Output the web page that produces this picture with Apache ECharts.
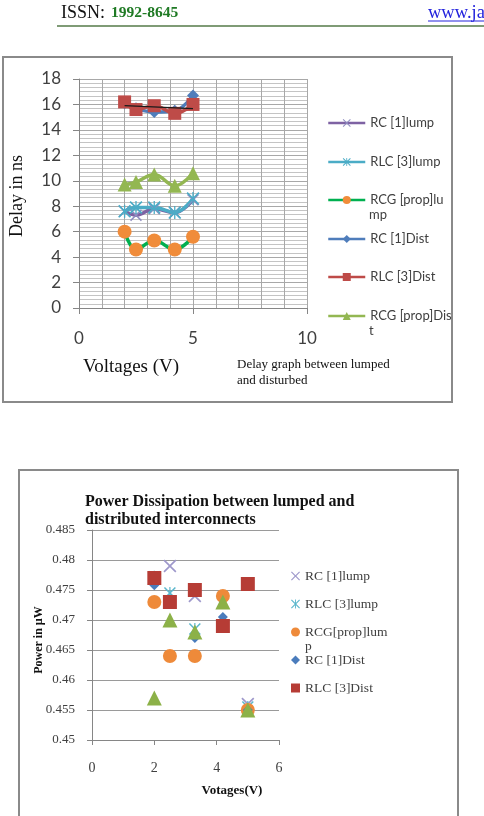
<!DOCTYPE html>
<html>
<head>
<meta charset="utf-8">
<script src="https://cdn.jsdelivr.net/npm/echarts@6/dist/echarts.min.js"></script>
<style>
  html, body { margin: 0; padding: 0; background: #fff; }
  #delayChart { position: absolute; left: 0; top: 0; width: 484px; height: 430px; }
  #powerChart { position: absolute; left: 0; top: 430px; width: 484px; height: 386px; }
</style>
</head>
<body>
<div id="delayChart"></div>
<div id="powerChart"></div>
<script>
// supply voltages (V), shared by both charts
const voltages = [2, 2.5, 3.3, 4.2, 5];

// delay in ns
const delayRC1Lump = [7.6, 7.3, 7.8, 7.5, 8.5];
const delayRLC3Lump = [7.6, 7.9, 7.9, 7.5, 8.6];
const delayRCGLump = [6.0, 4.6, 5.3, 4.6, 5.6];
const delayRC1Dist = [16.1, 15.7, 15.4, 15.5, 16.7];
const delayRLC3Dist = [16.2, 15.6, 15.9, 15.3, 16.0];
const delayRCGDist = [9.7, 9.9, 10.5, 9.6, 10.6];

// power in uW
const powerRC1Lump = [0.477, 0.479, 0.474, 0.469, 0.456];
const powerRLC3Lump = [0.4772, 0.4745, 0.4685, 0.469, 0.4555];
const powerRCGLump = [0.473, 0.464, 0.464, 0.474, 0.455];
const powerRC1Dist = [0.4758, 0.473, 0.467, 0.4705, 0.455];
const powerRLC3Dist = [0.477, 0.473, 0.475, 0.469, 0.476];
const powerRCGDist = [0.457, 0.470, 0.468, 0.473, 0.455];

const X_MARK = 'path://M0,0.9L0.9,0L5,4.1L9.1,0L10,0.9L5.9,5L10,9.1L9.1,10L5,5.9L0.9,10L0,9.1L4.1,5Z';
const STAR_MARK = 'path://M0,0.9L0.9,0L5,4.1L9.1,0L10,0.9L5.9,5L10,9.1L9.1,10L5,5.9L0.9,10L0,9.1L4.1,5ZM4.5,0L5.5,0L5.5,10L4.5,10Z';

function pairs(ys) {
  return voltages.map(function (v, i) { return [v, ys[i]]; });
}

// ---------- chart 1 : delay ----------
let delayChart = echarts.init(document.getElementById('delayChart'));

const delayDefs = [
  { name: 'RC [1]lump', label: 'RC [1]lump', data: delayRC1Lump, line: '#7e62a3', mark: '#8f8cc0', symbol: X_MARK, size: 12, cy: 123 },
  { name: 'RLC [3]lump', label: 'RLC [3]lump', data: delayRLC3Lump, line: '#4bacc6', mark: '#4bacc6', symbol: STAR_MARK, size: 13, cy: 162 },
  { name: 'RCG [prop]lump', label: 'RCG [prop]lu', wrap: 'mp', data: delayRCGLump, line: '#00b050', mark: '#f08c3a', symbol: 'circle', size: 14, cy: 200 },
  { name: 'RC [1]Dist', label: 'RC [1]Dist', data: delayRC1Dist, line: '#4f7dbb', mark: '#4f7dbb', symbol: 'diamond', size: 12, cy: 239 },
  { name: 'RLC [3]Dist', label: 'RLC [3]Dist', data: delayRLC3Dist, line: '#be4b48', mark: '#be4b48', symbol: 'rect', size: 13, cy: 277 },
  { name: 'RCG [prop]Dist', label: 'RCG [prop]Dis', wrap: 't', data: delayRCGDist, line: '#93b752', mark: '#93b752', symbol: 'triangle', size: 14, cy: 316 }
];

// linear trendline on RLC [3]Dist
let n = voltages.length, sx = 0, sy = 0, sxx = 0, sxy = 0;
voltages.forEach(function (v, i) {
  sx += v; sy += delayRLC3Dist[i]; sxx += v * v; sxy += v * delayRLC3Dist[i];
});
const slope = (n * sxy - sx * sy) / (n * sxx - sx * sx);
const intercept = (sy - slope * sx) / n;
const xFirst = voltages[0], xLast = voltages[n - 1];

const delaySeries = delayDefs.map(function (d) {
  return {
    name: d.name,
    type: 'line',
    smooth: 0.4,
    data: pairs(d.data),
    symbol: d.symbol,
    symbolSize: d.size,
    showAllSymbol: true,
    lineStyle: { color: d.line, width: 3.5 },
    itemStyle: { color: d.mark },
    emphasis: { disabled: true }
  };
});
delaySeries.push({
  name: 'trend',
  type: 'line',
  data: [[xFirst, intercept + slope * xFirst], [xLast, intercept + slope * xLast]],
  symbol: 'none',
  lineStyle: { color: '#1a1a1a', width: 1.2 },
  z: 5,
  emphasis: { disabled: true }
});

const delayLegends = delayDefs.map(function (d) {
  return {
    data: [d.name],
    left: 327,
    top: d.cy - 7,
    padding: 0,
    itemWidth: 37,
    itemHeight: 10,
    lineStyle: { width: 2.5 },
    selectedMode: false,
    formatter: function () { return d.label; },
    textStyle: { fontFamily: 'Lato', fontSize: 13, color: '#404040', lineHeight: 14 }
  };
});

const delayGraphics = [
  { type: 'rect', shape: { x: 3, y: 57, width: 449, height: 345 }, style: { fill: 'none', stroke: '#8a8a8a', lineWidth: 2 } },
  { type: 'text', x: 61, y: 13, style: { text: 'ISSN:', font: '18px "Liberation Serif"', fill: '#111', verticalAlign: 'middle' } },
  { type: 'text', x: 111, y: 13, style: { text: '1992-8645', font: 'bold 15.5px "Liberation Serif"', fill: '#1f7a24', verticalAlign: 'middle' } },
  { type: 'text', x: 428, y: 13, style: { text: 'www.jatit.org', font: '18.5px "Liberation Serif"', fill: '#2222dd', verticalAlign: 'middle' } },
  { type: 'line', shape: { x1: 428, y1: 21, x2: 484, y2: 21 }, style: { stroke: '#2222dd', lineWidth: 1 } },
  { type: 'line', shape: { x1: 57, y1: 26, x2: 484, y2: 26 }, style: { stroke: '#557a48', lineWidth: 1.5 } },
  { type: 'text', x: 17, y: 196, rotation: Math.PI / 2, style: { text: 'Delay in ns', font: '18px "Liberation Serif"', fill: '#111', align: 'center', verticalAlign: 'middle' } },
  { type: 'text', x: 131, y: 367, style: { text: 'Voltages (V)', font: '19px "Liberation Serif"', fill: '#111', align: 'center', verticalAlign: 'middle' } },
  { type: 'text', x: 237, y: 357, style: { text: 'Delay graph between lumped\nand disturbed', font: '13px "Liberation Serif"', lineHeight: 16, fill: '#111' } },
  { type: 'text', x: 264, y: 443, style: { text: 'Figure 8: Delay comparison chart', font: 'italic 16px "Liberation Serif"', fill: '#111', align: 'center', verticalAlign: 'middle' } }
];
delayDefs.forEach(function (d) {
  if (d.wrap) {
    delayGraphics.push({ type: 'text', x: 369, y: d.cy + 15, style: { text: d.wrap, font: '13px Lato', fill: '#404040', verticalAlign: 'middle' } });
  }
});

let delayOption = {
  animation: false,
  grid: { left: 79, top: 79, width: 228, height: 229, outerBoundsMode: 'none' },
  xAxis: {
    type: 'value', min: 0, max: 10, interval: 5,
    axisLine: { show: true, lineStyle: { color: '#868686' } },
    axisTick: { show: true, length: 6, lineStyle: { color: '#868686' } },
    axisLabel: { fontFamily: 'Lato', fontSize: 17, color: '#404040', margin: 22 },
    splitLine: { show: true, lineStyle: { color: '#a8a8a8' } },
    minorTick: { show: false, splitNumber: 5 },
    minorSplitLine: { show: true, lineStyle: { color: '#a8a8a8' } }
  },
  yAxis: {
    type: 'value', min: 0, max: 18, interval: 2,
    axisLine: { show: true, lineStyle: { color: '#868686' } },
    axisTick: { show: true, length: 6, lineStyle: { color: '#868686' } },
    axisLabel: { fontFamily: 'Lato', fontSize: 17, color: '#404040', margin: 18 },
    splitLine: { show: true, lineStyle: { color: '#a8a8a8' } },
    minorTick: { show: false, splitNumber: 6 },
    minorSplitLine: { show: true, lineStyle: { color: '#c4c4c4' } }
  },
  legend: delayLegends,
  series: delaySeries,
  graphic: delayGraphics
};
delayChart.setOption(delayOption);

// ---------- chart 2 : power ----------
let powerChart = echarts.init(document.getElementById('powerChart'));

const powerDefs = [
  { name: 'RC [1]lump', label: 'RC [1]lump', data: powerRC1Lump, color: '#9e98cb', symbol: X_MARK, size: 13, cy: 146, legend: true },
  { name: 'RLC [3]lump', label: 'RLC [3]lump', data: powerRLC3Lump, color: '#5bb7cc', symbol: STAR_MARK, size: 12, cy: 174, legend: true },
  { name: 'RCG[prop]lump', label: 'RCG[prop]lum', wrap: 'p', data: powerRCGLump, color: '#ee8a3a', symbol: 'circle', size: 14, cy: 202, legend: true },
  { name: 'RC [1]Dist', label: 'RC [1]Dist', data: powerRC1Dist, color: '#4a7cbc', symbol: 'diamond', size: 10, cy: 230, legend: true },
  { name: 'RLC [3]Dist', label: 'RLC [3]Dist', data: powerRLC3Dist, color: '#b63c35', symbol: 'rect', size: 14, cy: 258, legend: true },
  { name: 'RCG[prop]Dist', label: 'RCG[prop]Dist', data: powerRCGDist, color: '#8cb148', symbol: 'triangle', size: 15, cy: 0, legend: false }
];

const powerSeries = powerDefs.map(function (d) {
  return {
    name: d.name,
    type: 'scatter',
    data: pairs(d.data),
    symbol: d.symbol,
    symbolSize: d.size,
    itemStyle: { color: d.color, opacity: 1 },
    emphasis: { disabled: true }
  };
});

const powerLegends = powerDefs.filter(function (d) { return d.legend; }).map(function (d) {
  return {
    data: [d.name],
    left: 291,
    top: d.cy - 7.5,
    padding: 0,
    itemWidth: 9,
    itemHeight: 9,
    selectedMode: false,
    formatter: function () { return d.label; },
    textStyle: { fontFamily: 'Liberation Serif', fontSize: 13.5, color: '#404040', lineHeight: 15 }
  };
});

const powerGraphics = [
  { type: 'rect', shape: { x: 19, y: 40, width: 439, height: 400 }, style: { fill: 'none', stroke: '#8a8a8a', lineWidth: 2 } },
  { type: 'text', x: 85, y: 72, style: { text: 'Power Dissipation between lumped and', font: 'bold 16px "Liberation Serif"', fill: '#111', verticalAlign: 'middle' } },
  { type: 'text', x: 85, y: 90, style: { text: 'distributed interconnects', font: 'bold 16px "Liberation Serif"', fill: '#111', verticalAlign: 'middle' } },
  { type: 'text', x: 39, y: 210, rotation: Math.PI / 2, style: { text: 'Power in µW', font: 'bold 12px "Liberation Serif"', fill: '#111', align: 'center', verticalAlign: 'middle' } },
  { type: 'text', x: 232, y: 361, style: { text: 'Votages(V)', font: 'bold 13px "Liberation Serif"', fill: '#111', align: 'center', verticalAlign: 'middle' } }
];
powerDefs.forEach(function (d) {
  if (d.wrap) {
    powerGraphics.push({ type: 'text', x: 305, y: d.cy + 14, style: { text: d.wrap, font: '13.5px "Liberation Serif"', fill: '#404040', verticalAlign: 'middle' } });
  }
});

let powerOption = {
  animation: false,
  grid: { left: 92, top: 100, width: 187, height: 210, outerBoundsMode: 'none' },
  xAxis: {
    type: 'value', min: 0, max: 6, interval: 2,
    axisLine: { show: true, lineStyle: { color: '#868686' } },
    axisTick: { show: true, length: 5, lineStyle: { color: '#868686' } },
    axisLabel: { fontFamily: 'Liberation Serif', fontSize: 14, color: '#404040', margin: 21 },
    splitLine: { show: false }
  },
  yAxis: {
    type: 'value', min: 0.45, max: 0.485, interval: 0.005,
    axisLine: { show: true, lineStyle: { color: '#868686' } },
    axisTick: { show: true, length: 5, lineStyle: { color: '#868686' } },
    axisLabel: { fontFamily: 'Liberation Serif', fontSize: 13, color: '#404040', margin: 17 },
    splitLine: { show: true, lineStyle: { color: '#9a9a9a' } }
  },
  legend: powerLegends,
  series: powerSeries,
  graphic: powerGraphics
};
powerChart.setOption(powerOption);
</script>
</body>
</html>
